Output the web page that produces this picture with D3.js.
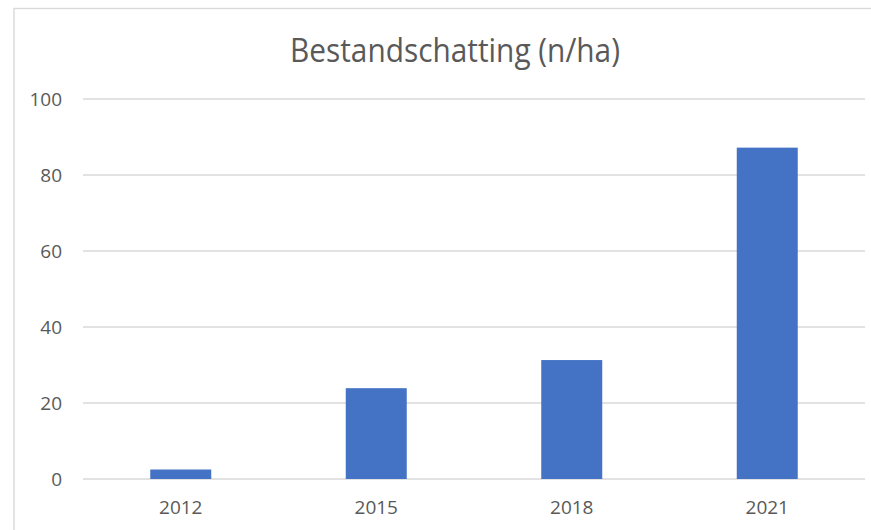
<!DOCTYPE html>
<html lang="nl">
<head>
    <meta charset="UTF-8">
    <title>Bestandschatting (n/ha)</title>
    <script src="https://d3js.org/d3.v7.min.js"></script>
    <style>
        body {
            margin: 0;
            padding: 0;
            background: #fff;
            font-family: "Open Sans", "Noto Sans", sans-serif;
        }
        .grid line {
            stroke: #d9d9d9;
            stroke-width: 1.4;
        }
        .tick-label {
            fill: #595959;
            font-size: 19px;
        }
        .title {
            fill: #595959;
            font-size: 33px;
        }
    </style>
</head>
<body>
    <div id="chart"></div>
    <script>
        const years = ["2012", "2015", "2018", "2021"];
        const values = [2.5, 23.9, 31.3, 87.2];
        const yTicks = [0, 20, 40, 60, 80, 100];

        const width = 871;
        const height = 530;

        const svg = d3.select("#chart")
            .append("svg")
            .attr("width", width)
            .attr("height", height);

        // chart frame (only left and top edges are visible in the crop)
        svg.append("rect")
            .attr("x", 14)
            .attr("y", 8.5)
            .attr("width", 900)
            .attr("height", 600)
            .attr("fill", "none")
            .attr("stroke", "#d9d9d9")
            .attr("stroke-width", 1.4);

        const x = d3.scaleBand()
            .domain(years)
            .range([83, 865])
            .paddingInner(0.688)
            .paddingOuter(0.344);

        const y = d3.scaleLinear()
            .domain([0, 100])
            .range([479, 99]);

        // gridlines
        svg.append("g")
            .attr("class", "grid")
            .selectAll("line")
            .data(yTicks)
            .join("line")
            .attr("x1", 83)
            .attr("x2", 865)
            .attr("y1", d => y(d))
            .attr("y2", d => y(d));

        // y labels
        svg.append("g")
            .selectAll("text")
            .data(yTicks)
            .join("text")
            .attr("class", "tick-label")
            .attr("x", 62)
            .attr("y", d => y(d) + 7)
            .attr("text-anchor", "end")
            .text(d => d);

        // bars
        svg.append("g")
            .selectAll("rect")
            .data(years)
            .join("rect")
            .attr("x", d => x(d))
            .attr("width", x.bandwidth())
            .attr("y", (d, i) => y(values[i]))
            .attr("height", (d, i) => y(0) - y(values[i]))
            .attr("fill", "#4472c4");

        // x labels
        svg.append("g")
            .selectAll("text")
            .data(years)
            .join("text")
            .attr("class", "tick-label")
            .attr("x", d => x(d) + x.bandwidth() / 2)
            .attr("y", 514)
            .attr("text-anchor", "middle")
            .text(d => d);

        // title
        svg.append("text")
            .attr("class", "title")
            .attr("x", 455)
            .attr("y", 62)
            .attr("text-anchor", "middle")
            .attr("textLength", 330)
            .attr("lengthAdjust", "spacingAndGlyphs")
            .text("Bestandschatting (n/ha)");
    </script>
</body>
</html>
